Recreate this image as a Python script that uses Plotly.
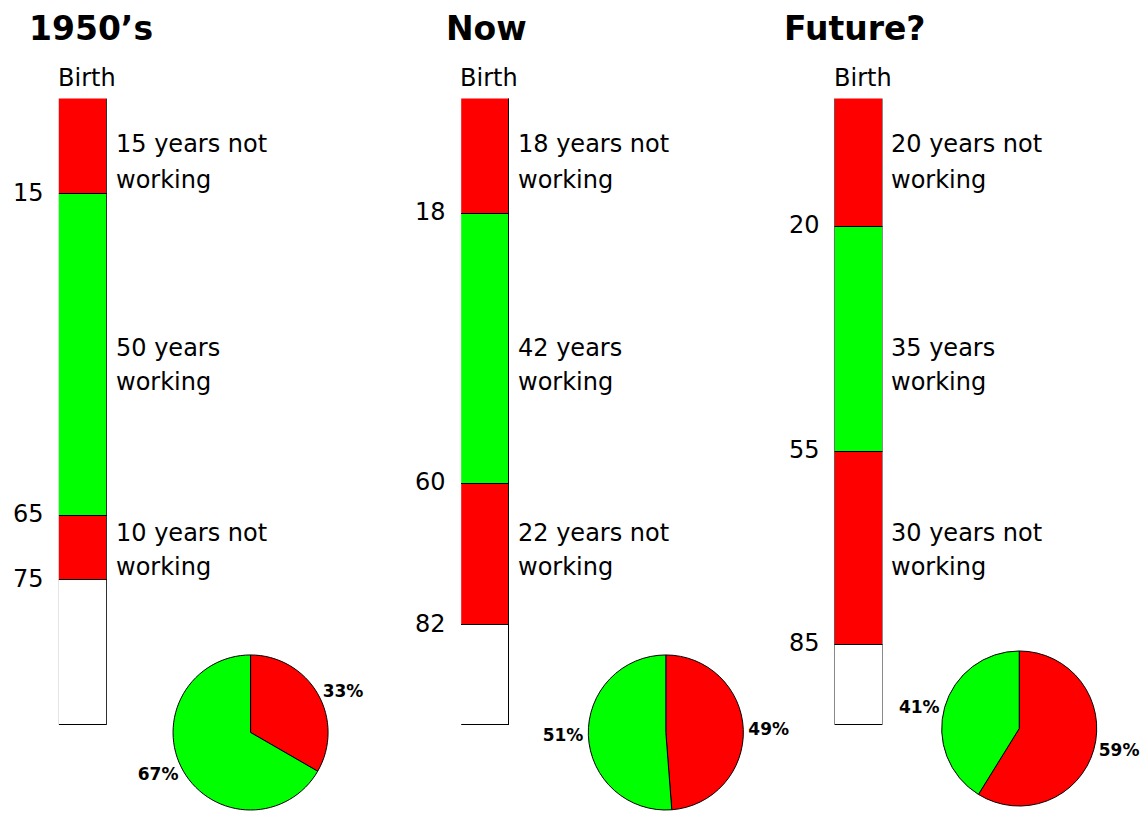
import plotly.graph_objects as go

# ---------------- data ----------------
eras = ["1950\u2019s", "Now", "Future?"]
years_before_work = [15, 18, 20]
years_working = [50, 42, 35]
years_after_work = [10, 22, 30]
birth_label = "Birth"

# ---------------- styling / layout constants ----------------
W, H = 1145, 815
AXIS_MAX_AGE = 97.5
RED, GREEN = "#FF0000", "#00FF00"
FONT = "DejaVu Sans"
bar_left_px = [59, 462, 836]
bar_w_px = 48
title_x_px = [27, 445, 783]
pie_center_px = [(251, 742), (667, 742), (1021, 733)]
pie_r_px = 78
bar_top_px, bar_bottom_px = 99, 730
label_line_px = [(145, 181), (350, 384), (536, 571)]

fig = go.Figure()
annotations = []

for i, era in enumerate(eras):
    xa = "x" if i == 0 else f"x{i+1}"
    start_work = years_before_work[i]
    stop_work = start_work + years_working[i]
    end_life = stop_work + years_after_work[i]
    segs = [
        (years_before_work[i], RED),
        (years_working[i], GREEN),
        (years_after_work[i], RED),
        (AXIS_MAX_AGE - end_life, "white"),
    ]
    for val, col in segs:
        fig.add_trace(go.Bar(
            x=[0], y=[val], xaxis=xa, yaxis="y", width=1,
            marker=dict(color=col, line=dict(color="black", width=1)),
            showlegend=False, hoverinfo="skip",
        ))

    # title
    annotations.append(dict(
        text=f"<b>{era}</b>", xref="paper", yref="paper",
        x=title_x_px[i] / W, y=1 - 29 / H, xanchor="left", yanchor="middle",
        showarrow=False, font=dict(family=FONT, size=33, color="black"),
    ))
    # Birth
    annotations.append(dict(
        text=birth_label, xref=xa, yref="y", x=-0.5, y=0,
        xanchor="left", yanchor="bottom", xshift=-3, yshift=4,
        showarrow=False, font=dict(family=FONT, size=24, color="black"),
    ))
    # age labels at boundaries
    for age in (start_work, stop_work, end_life):
        annotations.append(dict(
            text=str(age), xref=xa, yref="y", x=-0.5, y=age,
            xanchor="right", yanchor="middle", xshift=-13, yshift=2,
            showarrow=False, font=dict(family=FONT, size=24, color="black"),
        ))
    # segment descriptions
    seg_texts = [
        (f"{years_before_work[i]} years not", "working"),
        (f"{years_working[i]} years", "working"),
        (f"{years_after_work[i]} years not", "working"),
    ]
    for (l1, l2), (y1, y2) in zip(seg_texts, label_line_px):
        for txt, ypx in ((l1, y1), (l2, y2)):
            annotations.append(dict(
                text=txt, xref=xa, yref="paper", x=0.5, y=1 - ypx / H,
                xanchor="left", yanchor="middle", xshift=7,
                showarrow=False, font=dict(family=FONT, size=24, color="black"),
            ))

    # pie
    cx, cy = pie_center_px[i]
    not_working = years_before_work[i] + years_after_work[i]
    py0 = max(0.0, 1 - (cy + pie_r_px) / H)
    py1 = py0 + 2 * pie_r_px / H
    fig.add_trace(go.Pie(
        values=[not_working, years_working[i]],
        labels=["not working", "working"],
        marker=dict(colors=[RED, GREEN], line=dict(color="black", width=1)),
        sort=False, direction="clockwise", rotation=0,
        textposition="outside", texttemplate="%{percent:.0%}",
        textfont=dict(family=FONT, size=17, color="black", weight="bold"),
        domain=dict(x=[(cx - pie_r_px) / W, (cx + pie_r_px) / W], y=[py0, py1]),
        showlegend=False, hoverinfo="skip",
    ))

layout_axes = {}
for i in range(3):
    key = "xaxis" if i == 0 else f"xaxis{i+1}"
    layout_axes[key] = dict(
        domain=[bar_left_px[i] / W, (bar_left_px[i] + bar_w_px) / W],
        range=[-0.5, 0.5], visible=False, anchor="y", fixedrange=True,
    )
layout_axes["yaxis"] = dict(
    domain=[1 - bar_bottom_px / H, 1 - bar_top_px / H],
    range=[AXIS_MAX_AGE, 0], visible=False, fixedrange=True,
)

fig.update_layout(
    width=W, height=H, margin=dict(l=0, r=0, t=0, b=0),
    paper_bgcolor="white", plot_bgcolor="rgba(0,0,0,0)",
    barmode="stack", bargap=0, showlegend=False,
    annotations=annotations, **layout_axes,
)

page_css = (
    "var d=document.documentElement,b=document.body;"
    "[d,b].forEach(function(e){e.style.margin='0';e.style.padding='0';"
    "e.style.overflow='hidden';e.style.height='815px';});"
)

fig.write_html(
    "out.html",
    config={"displayModeBar": False},
    post_script=page_css,
)
